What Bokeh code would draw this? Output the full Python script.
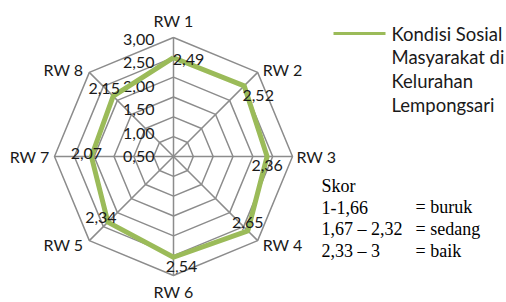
import numpy as np
from bokeh.plotting import figure
from bokeh.models import Range1d
from bokeh.core.properties import value
from bokeh.embed import file_html
from bokeh.resources import INLINE

# ---- data ----
categories = ["RW 1", "RW 2", "RW 3", "RW 4", "RW 6", "RW 5", "RW 7", "RW 8"]
scores = [2.49, 2.52, 2.36, 2.65, 2.54, 2.34, 2.07, 2.15]
score_labels = ["2,49", "2,52", "2,36", "2,65", "2,54", "2,34", "2,07", "2,15"]
ticks = [0.5, 1.0, 1.5, 2.0, 2.5, 3.0]
tick_labels = ["0,50", "1,00", "1,50", "2,00", "2,50", "3,00"]
series_name = ["Kondisi Sosial", "Masyarakat di", "Kelurahan", "Lempongsari"]
skor_left = ["Skor", "1-1,66", "1,67 \u2013 2,32", "2,33 \u2013 3"]
skor_right = ["", "= buruk", "= sedang", "= baik"]

# ---- layout (page pixels) ----
W, H = 506, 302
CX, CY = 173, 156          # centre
RPX = 119                  # pixels for max value
VMAX = 3.0
K = RPX / VMAX             # px per unit

p = figure(width=W, height=H, output_backend="svg", toolbar_location=None,
           x_range=Range1d(-CX / K, (W - CX) / K),
           y_range=Range1d(-(H - CY) / K, CY / K),
           min_border=0, outline_line_color=None)
p.axis.visible = False
p.grid.visible = False
p.background_fill_color = "white"


def px2x(px):
    return (px - CX) / K


def py2y(py):
    return (CY - py) / K


n = len(categories)
ang = np.pi / 2 - np.arange(n) * 2 * np.pi / n
FONT = "Lato"
TXT = "#1a1a1a"
GRID = "#8c8c8c"

# grid octagons
for t in ticks:
    xs = list(t * np.cos(ang)) + [t * np.cos(ang[0])]
    ys = list(t * np.sin(ang)) + [t * np.sin(ang[0])]
    p.line(xs, ys, line_color=GRID, line_width=1.5)
# spokes
for a in ang:
    p.line([0, VMAX * np.cos(a)], [0, VMAX * np.sin(a)], line_color=GRID, line_width=1.5)

# tick labels along RW1 axis (Excel-style spacing)
ty = [py2y(156 - (t - 0.5) * 46.8) for t in ticks]
p.text(x=[px2x(154)] * len(ticks), y=ty, text=tick_labels, text_align="right",
       text_baseline="middle", text_font=value(FONT), text_font_size="16px",
       text_color=TXT)

# data polygon
vx = [s * np.cos(a) for s, a in zip(scores, ang)]
vy = [s * np.sin(a) for s, a in zip(scores, ang)]
p.line(vx + [vx[0]], vy + [vy[0]], line_color="#9BBB59", line_width=5, line_join="round")

# data labels (pixel offsets: right, down)
lab_off = [(15, 2), (14, 10), (0, 9), (0, -8), (8, 9), (-7, -5), (-5, -3), (-9, -8)]
for x, y, s, (dx, dy) in zip(vx, vy, score_labels, lab_off):
    p.text(x=[x], y=[y], text=[s], x_offset=dx, y_offset=dy, text_align="center",
           text_baseline="middle", text_font=value(FONT), text_font_size="16px",
           text_color=TXT)

# category labels
cat_off = [(0, -17), (5, -3), (4, 0), (5, 4), (0, 16), (-6, 4), (-5, 0), (-6, -3)]
for c, a, (dx, dy) in zip(categories, ang, cat_off):
    ca = np.cos(a)
    align = "center" if abs(ca) < 0.1 else ("left" if ca > 0 else "right")
    p.text(x=[VMAX * np.cos(a)], y=[VMAX * np.sin(a)], text=[c], x_offset=dx,
           y_offset=dy, text_align=align, text_baseline="middle",
           text_font=value(FONT), text_font_size="16px", text_color=TXT)

# legend
p.line([px2x(333), px2x(385)], [py2y(33), py2y(33)], line_color="#9BBB59", line_width=3)
p.text(x=[px2x(391)] * 4, y=[py2y(33 + 23.7 * i) for i in range(4)], text=series_name,
       text_align="left", text_baseline="middle", text_font=value(FONT),
       text_font_size="18.5px", text_color=TXT)

# score key
p.text(x=[px2x(321)] * 4, y=[py2y(185 + 21.7 * i) for i in range(4)], text=skor_left,
       text_align="left", text_baseline="middle", text_font=value("Liberation Serif"),
       text_font_size="18px", text_color="black")
p.text(x=[px2x(415)] * 4, y=[py2y(185 + 21.7 * i) for i in range(4)], text=skor_right,
       text_align="left", text_baseline="middle", text_font=value("Liberation Serif"),
       text_font_size="18px", text_color="black")

open("out.html", "w").write(file_html(p, INLINE))
